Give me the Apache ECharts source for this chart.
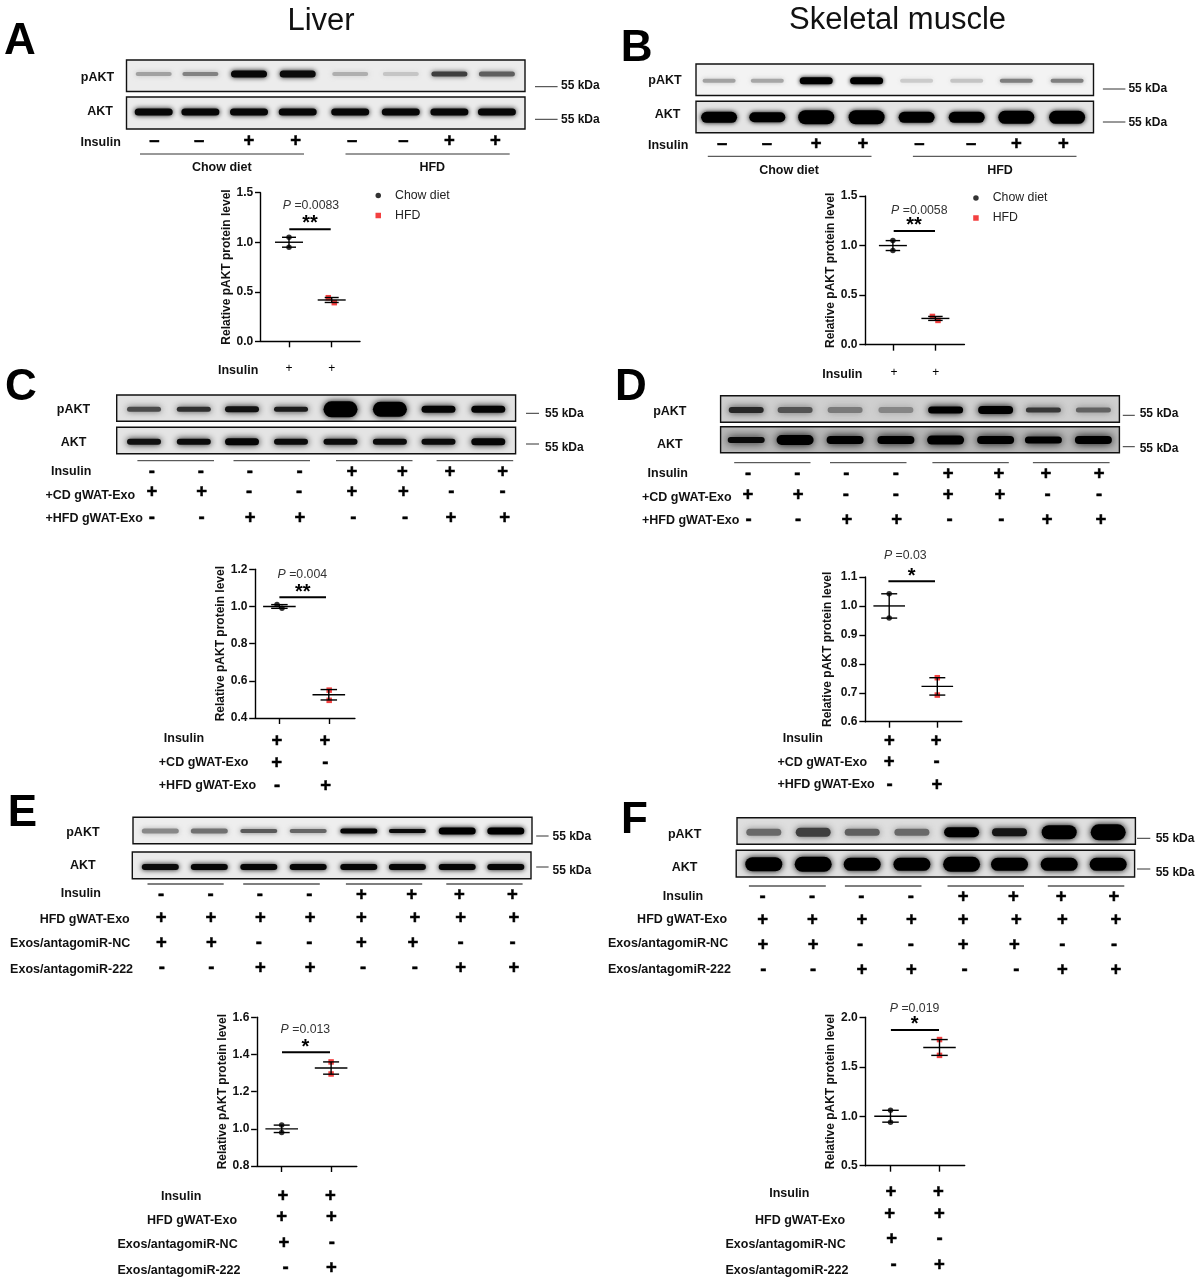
<!DOCTYPE html>
<html><head><meta charset="utf-8">
<style>html,body{margin:0;padding:0;background:#fff}#c{width:1200px;height:1281px}</style>
<script src="https://cdn.jsdelivr.net/npm/echarts@6/dist/echarts.min.js"></script>
</head><body><div id="c"></div>
<script>
// ---------- values ----------
const groupNames = ['Chow diet', 'HFD'];
const yAxisTitle = 'Relative pAKT protein level';
const panelLetters = ['A', 'B', 'C', 'D', 'E', 'F'];

const a_chow = [1.05, 0.95], a_hfd = [0.44, 0.39], a_mean = [1.0, 0.417], a_sd = [0.05, 0.025];
const b_chow = [1.05, 0.95], b_hfd = [0.285, 0.245], b_mean = [1.0, 0.265], b_sd = [0.05, 0.02];
const c_chow = [1.01, 0.99], c_hfd = [0.55, 0.495], c_mean = [1.0, 0.525], c_sd = [0.01, 0.028];
const d_chow = [1.042, 0.958], d_hfd = [0.752, 0.692], d_mean = [1.0, 0.722], d_sd = [0.042, 0.03];
const e_chow = [1.02, 0.98], e_hfd = [1.36, 1.295], e_mean = [1.0, 1.327], e_sd = [0.02, 0.033];
const f_chow = [1.06, 0.94], f_hfd = [1.775, 1.615], f_mean = [1.0, 1.695], f_sd = [0.06, 0.08];

const pValues = ['0.0083', '0.0058', '0.004', '0.03', '0.013', '0.019'];
const stars = ['**', '**', '**', '*', '*', '*'];

// band darkness (0-1) and thickness per lane
const a_p_d = [.28,.42,.97,.95,.22,.12,.72,.58], a_p_t = [4,4,7,7,4,4,5,5];
const a_t_d = [.97,.97,.97,.97,.97,.97,.97,.97], a_t_t = [7,7,7,7,7,7,7,7];
const b_p_d = [.3,.28,1,1,.12,.15,.45,.45],    b_p_t = [4,4,7,7,4,4,4,4];
const b_t_d = [1,1,1,1,1,1,1,1],              b_t_t = [11,10,14,14,11,11,13,13];
const c_p_d = [.65,.78,.92,.88,1,1,.98,.98],    c_p_t = [5,5,6,5,16,15,7,7];
const c_t_d = [.92,.95,.97,.95,.95,.95,.95,.97], c_t_t = [6,6,7,6,6,6,6,7];
const d_p_d = [.8,.58,.38,.32,1,1,.72,.5],  d_p_t = [6,6,6,6,7,8,5,5];
const d_t_d = [.95,1,1,1,1,1,1,1],            d_t_t = [6,10,8,8,9,8,7,8];
const e_p_d = [.4,.5,.6,.55,.97,.95,1,1],   e_p_t = [5,5,4,4,5,4,7,7];
const e_t_d = [.95,.97,.97,.97,.97,.97,.97,.97], e_t_t = [6,6,6,6,6,6,6,6];
const f_p_d = [.5,.7,.55,.5,1,.9,1,1],      f_p_t = [7,9,7,7,10,8,14,16];
const f_t_d = [1,1,1,1,1,1,1,1],              f_t_t = [14,15,13,13,15,13,13,13];

// sign rows
const s_ins_ab = ['–','–','+','+','–','–','+','+'];
const s_ins = ['-','-','-','-','+','+','+','+'];
const s_all = ['+','+','+','+','+','+','+','+'];
const s_first = ['+','+','-','-','+','+','-','-'];
const s_second = ['-','-','+','+','-','-','+','+'];

// ---------- layout (page pixels) ----------
const FONT = '"Liberation Sans", Arial, sans-serif';
const panels = [
 {ch:a_chow,hf:a_hfd,mean:a_mean,sd:a_sd, ax:[260.7,360,289,331.7,192.7,341.3], y:[0,1.5,.5], chX:[289,289], hfX:[328.3,334.3], sig:[289.3,330.7,1.13], mw:28,cw:14,
  pt:[311,205], st:[310,219], nameGap:26.5},
 {ch:b_chow,hf:b_hfd,mean:b_mean,sd:b_sd, ax:[865,964.4,892.9,935.4,196,344.7], y:[0,1.5,.5], chX:[892.9,892.9], hfX:[932.4,938], sig:[893.7,935,1.147], mw:28,cw:14.5,
  pt:[919.3,210], st:[914,221.7], nameGap:27.5},
 {ch:c_chow,hf:c_hfd,mean:c_mean,sd:c_sd, ax:[254.9,354.9,279.4,328.8,569.3,718], y:[.4,1.2,.2], chX:[277,282], hfX:[329.2,329.2], sig:[279.4,326,1.049], mw:32.6,cw:16.5,
  pt:[302.3,574], st:[302.7,588], nameGap:25.5},
 {ch:d_chow,hf:d_hfd,mean:d_mean,sd:d_sd, ax:[865,961.8,889.2,937.3,577,721.7], y:[.6,1.1,.1], chX:[889.2,889.2], hfX:[937.3,937.3], sig:[888.4,935,1.085], mw:31.6,cw:16,
  pt:[905.3,554.3], st:[911.7,572.7], nameGap:31.5},
 {ch:e_chow,hf:e_hfd,mean:e_mean,sd:e_sd, ax:[256.8,356.8,281.7,331.1,1017.3,1166], y:[.8,1.6,.2], chX:[281.7,281.7], hfX:[331.1,331.1], sig:[282,330,1.412], mw:32.6,cw:16,
  pt:[305.4,1028.3], st:[305.4,1043.3], nameGap:25.5},
 {ch:f_chow,hf:f_hfd,mean:f_mean,sd:f_sd, ax:[865.2,964.7,890.5,939.5,1017.3,1165.7], y:[.5,2,.5], chX:[890.5,890.5], hfX:[939.5,939.5], sig:[890.9,939,1.872], mw:32.5,cw:16.5,
  pt:[914.6,1007.3], st:[914.6,1020.7], nameGap:24.5}
];
const blots = [
 {box:[126.5,525,60,91.5],  bg:'#ececec', y:74,  lanes:[153.7,200.4,249,297.7,350.2,400.8,449.4,496.9], d:a_p_d,t:a_p_t,w:36,g:5},
 {box:[126.5,525,97,129],   bg:'#ebebeb', y:112, lanes:[153.7,200.4,249,297.7,350.2,400.8,449.4,496.9], d:a_t_d,t:a_t_t,w:38,g:5},
 {box:[696,1093.5,64,95.5], bg:'#f3f3f3', y:80.7,lanes:[719.1,767.3,816.2,866.6,916.6,966.7,1016.3,1067.1], d:b_p_d,t:b_p_t,w:33,g:4},
 {box:[696,1093.5,101.3,132.7], bg:'#e4e4e4', y:117.3,lanes:[719.1,767.3,816.2,866.6,916.6,966.7,1016.3,1067.1], d:b_t_d,t:b_t_t,w:36,g:5},
 {box:[116.7,515.6,395,421.3], bg:'#e2e2e2', y:409.3,lanes:[144,193.8,242,291,340.5,389.9,438.5,488.3], d:c_p_d,t:c_p_t,w:34,g:6},
 {box:[116.7,515.6,427.3,453.7], bg:'#e4e4e4', y:441.7,lanes:[144,193.8,242,291,340.5,389.9,438.5,488.3], d:c_t_d,t:c_t_t,w:34,g:6},
 {box:[720.6,1119.4,395.7,422.3], bg:'#cfcfcf', y:410,lanes:[746.2,795.1,845.1,895.9,945.6,995.6,1043.4,1093.4], d:d_p_d,t:d_p_t,w:35,g:7},
 {box:[720.6,1119.4,426.7,452.7], bg:'#b8b8b8', y:440,lanes:[746.2,795.1,845.1,895.9,945.6,995.6,1043.4,1093.4], d:d_t_d,t:d_t_t,w:37,g:8},
 {box:[133,532,817.3,843.7], bg:'#eeeeee', y:831,lanes:[160.3,209.3,258.8,308.2,358.8,407.4,457.2,505.8], d:e_p_d,t:e_p_t,w:37,g:5},
 {box:[132.3,531,852,878.7], bg:'#eaeaea', y:867,lanes:[160.3,209.3,258.8,308.2,358.8,407.4,457.2,505.8], d:e_t_d,t:e_t_t,w:37,g:5},
 {box:[737,1135.4,817.7,844.3], bg:'#dedede', y:832.3,lanes:[763.8,813.2,862.2,911.9,961.6,1009.5,1059.2,1108.2], d:f_p_d,t:f_p_t,w:35,g:6},
 {box:[736.2,1134.6,850.3,877], bg:'#e0e0e0', y:864.3,lanes:[763.8,813.2,862.2,911.9,961.6,1009.5,1059.2,1108.2], d:f_t_d,t:f_t_t,w:37,g:6}
];

// ---------- text helpers ----------
const g = [];
function T(text,x,y,o){o=o||{};
  const s=o.s||12.5, off=o.off!==undefined?o.off:(s>=30?3:1);
  const st={text:text,fill:o.c||'#111',
    font:(o.i?'italic ':'')+(o.w||'bold')+' '+s+'px '+FONT,
    align:o.a||'left',verticalAlign:'middle'};
  if(o.sw){st.stroke=o.c||'#000';st.lineWidth=o.sw;}
  g.push({type:'text',x:x,y:y+off,silent:true,z:10,style:st});
}
function L(x1,x2,y,o){o=o||{};
  g.push({type:'line',silent:true,z:10,shape:{x1:x1,y1:y,x2:x2,y2:y},style:{stroke:o.c||'#333',lineWidth:o.w||1}});
}
function row(signs,xs,y,o){signs.forEach((s,i)=>T(s,xs[i],y,Object.assign({a:'center',s:18.5,c:'#000',off:0,sw:.5},o||{})));}

T('Liver',321,18,{s:31,w:'normal',a:'center'});
T('Skeletal muscle',897.5,17,{s:31,w:'normal',a:'center'});
[[20,39],[636.7,46],[21,385],[631,385],[22.4,811],[634.5,818]].forEach((p,i)=>T(panelLetters[i],p[0],p[1],{s:44,a:'center',c:'#000'}));

// row labels on the blots
[[97.5,77,100,111],[665,80,667.6,113.7],[73.5,408.3,73.5,441.7],[669.8,410.7,669.8,443.3],[82.9,831.3,82.9,864.3],[684.6,833.3,684.6,866.3]].forEach(p=>{
  T('pAKT',p[0],p[1],{a:'center'});T('AKT',p[2],p[3],{a:'center'});});

// 55 kDa markers: line x1,x2, line y, label x, label y
[[535,557.6,86.7,561,85],[535,557.6,119.3,561,119],[1102.9,1125.4,89,1128.4,87.7],[1102.9,1125.4,122,1128.4,121.7],
 [526,539,413.3,545,412.3],[526,539,444,545,446.7],[1122.8,1134.8,415.3,1139.7,413],[1122.8,1134.8,446.7,1139.7,447.3],
 [536.2,548.6,836,552.5,835.7],[536.2,548.6,867,552.5,869.7],[1137,1150.3,838.3,1155.7,837.7],[1137,1150.3,869,1155.7,871.7]]
 .forEach(p=>{L(p[0],p[1],p[2]);T('55 kDa',p[3],p[4],{s:12});});

// panel A / B lower blot rows
T('Insulin',80.5,142);row(s_ins_ab,[154.5,199.2,249,295.7,352.1,403.5,449.4,495.3],141);
L(140,304,154);L(345.5,509.7,154);T(groupNames[0],221.8,167,{a:'center'});T(groupNames[1],432.3,167,{a:'center'});
T('Insulin',648,145);row(s_ins_ab,[722.1,766.9,816.2,862.8,919.3,971.2,1016.3,1063.4],143.7);
L(707.8,871.5,156.3);L(912.9,1076.5,156.3);T(groupNames[0],789,169.3,{a:'center'});T(groupNames[1],1000,169.3,{a:'center'});
T('Insulin',218,370);T('Insulin',822.2,373.3);
row(['+','+'],[289,331.7],369,{s:12,w:'normal',sw:0});row(['+','+'],[894,935.8],373,{s:12,w:'normal',sw:0});

// panel C
T('Insulin',51,470.3);T('+CD gWAT-Exo',45.5,494.7);T('+HFD gWAT-Exo',45.5,518);
row(s_ins,[151.8,200.8,249.8,299.6,351.8,402.3,449.8,502.7],472.3);
row(s_first,[151.8,201.6,249,299.2,351.8,403.5,451.4,502.7],492.3);
row(s_second,[151.8,201.6,250.2,300,353.3,405,451,504.7],517.7);
[[137.4,214],[233.5,310],[336,412.5],[436.6,513.2]].forEach(p=>L(p[0],p[1],460.7));
T('Insulin',163.8,737.7);T('+CD gWAT-Exo',158.8,762);T('+HFD gWAT-Exo',158.8,785);
row(['+','+'],[277,325],741);row(['+','-'],[276.7,325.3],763.2);row(['-','+'],[277,325.7],786);

// panel D
T('Insulin',647.6,472.3);T('+CD gWAT-Exo',642,496.7);T('+HFD gWAT-Exo',642,520);
row(s_ins,[748,797.4,846.3,895.9,948.2,999,1046,1099.1],474.3);
row(s_first,[748,798.1,845.9,895.9,948.2,999.8,1047.5,1099.1],494.7);
row(s_second,[748.5,798.1,847,896.7,949.7,1001.3,1047.2,1101],519.7);
[[734.2,810.5],[830,906.5],[932.4,1008.8],[1032.9,1109.6]].forEach(p=>L(p[0],p[1],462.7));
T('Insulin',782.7,738);T('+CD gWAT-Exo',777.4,761.7);T('+HFD gWAT-Exo',777.4,784);
row(['+','+'],[889.5,936.2],740.7);row(['+','-'],[889.2,936.6],762.2);row(['-','+'],[889.5,937],784.5);

// panel E
T('Insulin',60.7,893);T('HFD gWAT-Exo',39.7,918.7);T('Exos/antagomiR-NC',10.1,942.7);T('Exos/antagomiR-222',10.1,968.3);
row(s_ins,[161.1,210.5,259.9,309.3,361.5,411.7,459.5,512.5],895.3);
row(s_all,[161.1,210.9,260.3,310.1,361.5,414.8,460.7,514],917.7);
row(s_first,[161.5,211.3,258.8,309.3,361.5,412.8,460.7,512.5],943);
row(s_second,[161.9,211.3,260.3,310.1,363,414.8,460.7,514],968.3);
[[147.5,223.7],[243.2,319.8],[345.9,422.2],[446.3,522.6]].forEach(p=>L(p[0],p[1],884,{w:1.6,c:'#555'}));
T('Insulin',161,1195.7);T('HFD gWAT-Exo',147,1219.7);T('Exos/antagomiR-NC',117.5,1243.7);T('Exos/antagomiR-222',117.5,1269.3);
row(['+','+'],[282.9,330.4],1195.7);row(['+','+'],[281.7,331.5],1217.3);row(['+','-'],[284,331.9],1242.7);row(['-','+'],[285.6,331.5],1268.3);

// panel F
T('Insulin',662.8,895.3);T('HFD gWAT-Exo',637.1,918.7);T('Exos/antagomiR-NC',608,942.7);T('Exos/antagomiR-222',608,968.3);
row(s_ins,[762.6,812,861.4,910.8,963.2,1013.3,1061.2,1114],897.3);
row(s_all,[762.6,812.4,861.8,911.5,963.2,1016.4,1062.3,1115.9],919.7);
row(s_first,[763,813.2,860.2,910.8,963.2,1014.5,1062.3,1114],944.7);
row(s_second,[763.4,813.2,861.8,911.5,964.7,1016.4,1062.3,1115.9],970.3);
[[748.9,825.8],[844.9,921.5],[947.5,1024],[1047.8,1124.3]].forEach(p=>L(p[0],p[1],886,{w:1.6,c:'#555'}));
T('Insulin',769.2,1192.3);T('HFD gWAT-Exo',755,1219.7);T('Exos/antagomiR-NC',725.5,1243.7);T('Exos/antagomiR-222',725.5,1269.3);
row(['+','+'],[890.9,938.3],1192);row(['+','+'],[889.7,939.5],1214);row(['+','-'],[891.6,939.5],1239.3);row(['-','+'],[893.5,939.5],1264.7);

// P value and stars
panels.forEach((p,i)=>{
  g.push({type:'text',x:p.pt[0],y:p.pt[1]+1,silent:true,z:10,style:{
    text:'{i|P} ='+pValues[i],align:'center',verticalAlign:'middle',fill:'#333',font:'12.3px '+FONT,
    rich:{i:{font:'italic 12.3px '+FONT,fill:'#333'}}}});
  T(stars[i],p.st[0],p.st[1],{s:20,a:'center',c:'#000',off:4});
});

// ---------- option ----------
const grid=[],xAxis=[],yAxis=[],series=[];
blots.forEach(b=>{
  const k=grid.length;
  grid.push({show:true,left:b.box[0],width:b.box[1]-b.box[0],top:b.box[2],height:b.box[3]-b.box[2],
    backgroundColor:b.bg,borderColor:'#111',borderWidth:1.4});
  xAxis.push({gridIndex:k,type:'value',min:b.box[0],max:b.box[1],show:false});
  yAxis.push({gridIndex:k,type:'value',min:b.box[2],max:b.box[3],inverse:true,show:false});
  const top=parseInt(b.bg.slice(1,3),16);
  series.push({type:'custom',name:'band',xAxisIndex:k,yAxisIndex:k,silent:true,clip:true,
    data:b.lanes.map((x,i)=>[x,b.y,b.d[i],b.t[i]]),
    renderItem:function(params,api){
      const c=api.coord([api.value(0),api.value(1)]),d=api.value(2),t=api.value(3);
      const v=Math.round(top*(1-d)*0.95),col='rgb('+v+','+v+','+v+')';
      return {type:'rect',shape:{x:c[0]-b.w/2,y:c[1]-t/2,width:b.w,height:t,r:t/2},
        style:{fill:col,shadowBlur:b.g,shadowColor:'rgba('+v+','+v+','+v+','+(0.4+0.6*d)+')'}};
    }});
});
const AX={lineStyle:{color:'#000',width:1.4}};
panels.forEach(p=>{
  const k=grid.length,a=p.ax,unit=a[3]-a[2];
  const toX=px=>1+(px-a[2])/unit;
  grid.push({left:a[0],width:a[1]-a[0],top:a[4],height:a[5]-a[4]});
  xAxis.push({gridIndex:k,type:'value',min:toX(a[0]),max:toX(a[1]),splitLine:{show:false},
    axisLine:Object.assign({show:true,onZero:false},AX),
    axisLabel:{show:false},axisTick:{show:true,length:6,customValues:[1,2],lineStyle:{color:'#000',width:1.4}}});
  yAxis.push({gridIndex:k,type:'value',min:p.y[0],max:p.y[1],interval:p.y[2],splitLine:{show:false},
    axisLine:Object.assign({show:true,onZero:false},AX),
    axisTick:{show:true,length:5.7,lineStyle:{color:'#000',width:1.4}},
    axisLabel:{margin:7.5,fontFamily:FONT,fontWeight:'bold',fontSize:12,color:'#111',formatter:v=>Number(v).toFixed(1)},
    name:yAxisTitle,nameLocation:'middle',nameRotate:90,nameGap:p.nameGap,
    nameTextStyle:{fontFamily:FONT,fontWeight:'bold',fontSize:12,color:'#111'}});
  series.push({type:'scatter',name:groupNames[0],xAxisIndex:k,yAxisIndex:k,symbol:'circle',symbolSize:5.5,z:2,silent:true,
    itemStyle:{color:'#000'},data:p.ch.map((v,i)=>[toX(p.chX[i]),v])});
  series.push({type:'scatter',name:groupNames[1],xAxisIndex:k,yAxisIndex:k,symbol:'rect',symbolSize:5.5,z:2,silent:true,
    itemStyle:{color:'#f01010'},data:p.hf.map((v,i)=>[toX(p.hfX[i]),v])});
  series.push({type:'custom',name:'mean ± SD',xAxisIndex:k,yAxisIndex:k,z:3,silent:true,clip:false,
    data:p.mean.map((m,i)=>[i+1,m,p.sd[i]]),
    renderItem:function(params,api){
      const x=api.value(0),m=api.value(1),s=api.value(2);
      const cm=api.coord([x,m]),hi=api.coord([x,m+s]),lo=api.coord([x,m-s]);
      const st={stroke:'#000',lineWidth:1.4,fill:null};
      const ln=(x1,y1,x2,y2)=>({type:'line',shape:{x1,y1,x2,y2},style:st});
      return {type:'group',children:[
        ln(cm[0]-p.mw/2,cm[1],cm[0]+p.mw/2,cm[1]),
        ln(hi[0],hi[1],lo[0],lo[1]),
        ln(hi[0]-p.cw/2,hi[1],hi[0]+p.cw/2,hi[1]),
        ln(lo[0]-p.cw/2,lo[1],lo[0]+p.cw/2,lo[1])]};
    }});
  series.push({type:'line',name:'significance',xAxisIndex:k,yAxisIndex:k,z:3,silent:true,clip:false,showSymbol:false,symbol:'none',
    lineStyle:{color:'#000',width:2},data:[[toX(p.sig[0]),p.sig[2]],[toX(p.sig[1]),p.sig[2]]]});
});
function legend(l,t){return {left:l,top:t,orient:'vertical',padding:0,itemWidth:5.5,itemHeight:5.5,itemGap:8,selectedMode:false,
  textStyle:{fontFamily:FONT,fontSize:12.3,color:'#222',padding:[0,0,0,9]},
  data:[{name:groupNames[0],icon:'circle'},{name:groupNames[1],icon:'rect'}]};}

const chart=echarts.init(document.getElementById('c'),null,{renderer:'canvas'});
chart.setOption({animation:false,backgroundColor:'#fff',textStyle:{fontFamily:FONT},
  grid,xAxis,yAxis,series,legend:[legend(375.5,189.5),legend(973.2,192)],graphic:{elements:g}});
</script></body></html>
